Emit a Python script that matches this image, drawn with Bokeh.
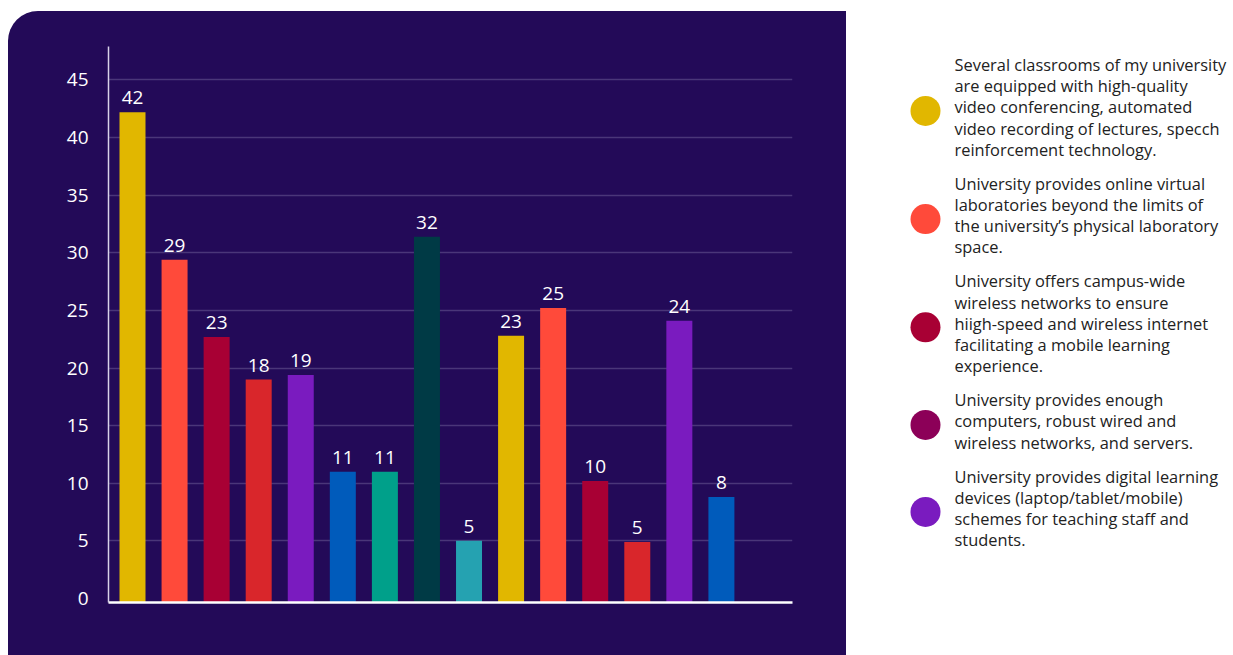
from bokeh.plotting import figure
from bokeh.models import Range1d, FixedTicker, ColumnDataSource, Spacer
from bokeh.layouts import row, column
from bokeh.embed import file_html
from bokeh.resources import INLINE
from bokeh.core.properties import value

# ---------------- data ----------------
bar_values = [42.2, 29.4, 22.7, 19.0, 19.4, 11.0, 11.0, 31.4, 5.0, 22.8, 25.2, 10.2, 4.9, 24.1, 8.8]
bar_labels = ["42", "29", "23", "18", "19", "11", "11", "32", "5", "23", "25", "10", "5", "24", "8"]
bar_colors = ["#E1B700", "#FF4A3A", "#A80034", "#D9262B", "#7A1BBF", "#005BBB", "#00A08A",
              "#003A45", "#25A2B1", "#E1B700", "#FF4A3A", "#A80034", "#D9262B", "#7A1BBF", "#005BBB"]
y_ticks = [0, 5, 10, 15, 20, 25, 30, 35, 40, 45]

legend_texts = [
    ["Several classrooms of my university", "are equipped with high-quality",
     "video conferencing, automated", "video recording of lectures, specch",
     "reinforcement technology."],
    ["University provides online virtual", "laboratories beyond the limits of",
     "the university\u2019s physical laboratory", "space."],
    ["University offers campus-wide", "wireless networks to ensure",
     "hiigh-speed and wireless internet", "facilitating a mobile learning",
     "experience."],
    ["University provides enough", "computers, robust wired and",
     "wireless networks, and servers."],
    ["University provides digital learning", "devices (laptop/tablet/mobile)",
     "schemes for teaching staff and", "students."],
]
legend_colors = ["#E1B700", "#FF4A3A", "#A80034", "#8C0058", "#7A1BBF"]

BG = "#230A58"
FONT = "Open Sans"

# ---------------- bar chart ----------------
y_start = -0.35
p = figure(width=838, height=644, output_backend="svg", toolbar_location=None,
           x_range=Range1d(-0.5705, 15.69), y_range=Range1d(y_start, 47.9),
           min_border_left=100, min_border_right=54, min_border_top=35, min_border_bottom=53,
           background_fill_color=None, border_fill_color=None,
           styles={"border-top-left-radius": "30px", "overflow": "hidden",
                   "background-color": BG})
p.outline_line_color = None

src = ColumnDataSource(dict(x=list(range(len(bar_values))), top=bar_values,
                            label=bar_labels, color=bar_colors))
p.vbar(x="x", top="top", bottom=y_start - 0.1, width=0.618, fill_color="color",
       line_color=None, source=src)
p.text(x="x", y="top", text="label", source=src, text_align="center",
       text_baseline="bottom", y_offset=-8, text_color="white",
       text_font=value(FONT), text_font_size="19px")

p.xgrid.visible = False
p.ygrid.ticker = FixedTicker(ticks=y_ticks[1:])
p.ygrid.grid_line_color = "#4A3679"
p.ygrid.grid_line_width = 1.5

p.yaxis.ticker = FixedTicker(ticks=y_ticks)
p.yaxis.axis_line_color = "#D8D2E8"
p.yaxis.axis_line_width = 1.5
p.yaxis.major_tick_line_color = None
p.yaxis.minor_tick_line_color = None
p.yaxis.major_tick_out = 0
p.yaxis.major_label_standoff = 20
p.yaxis.major_label_text_color = "white"
p.yaxis.major_label_text_font = FONT
p.yaxis.major_label_text_font_size = "19px"

p.xaxis.ticker = FixedTicker(ticks=[])
p.xaxis.axis_line_color = "white"
p.xaxis.axis_line_width = 2.5
p.xaxis.major_tick_line_color = None
p.xaxis.minor_tick_line_color = None
p.xaxis.major_label_text_font_size = "0px"

# ---------------- legend panel ----------------
lg = figure(width=387, height=655, output_backend="svg", toolbar_location=None,
            x_range=Range1d(0, 387), y_range=Range1d(655, 0),
            min_border=0, background_fill_color="white", border_fill_color="white",
            outline_line_color=None)
lg.axis.visible = False
lg.grid.visible = False

line_h = 21.2
item_gap = 34
tx, ty, tt = [], [], []
cx, cy, cc = [], [], []
y = 64
for lines, col in zip(legend_texts, legend_colors):
    first = y
    for ln in lines:
        tx.append(108)
        ty.append(y)
        tt.append(ln)
        y += line_h
    last = y - line_h
    cx.append(79)
    cy.append((first + last) / 2 + 4)
    cc.append(col)
    y = last + item_gap

lg.scatter(x=cx, y=cy, size=30, color=cc, line_color=None)
lg.text(x=tx, y=ty, text=tt, text_align="left", text_baseline="middle",
        text_color="#222222", text_font=value(FONT), text_font_size="16.4px")

layout = row(Spacer(width=8), column(Spacer(height=11), p), lg)
open("out.html", "w").write(file_html(layout, INLINE))
